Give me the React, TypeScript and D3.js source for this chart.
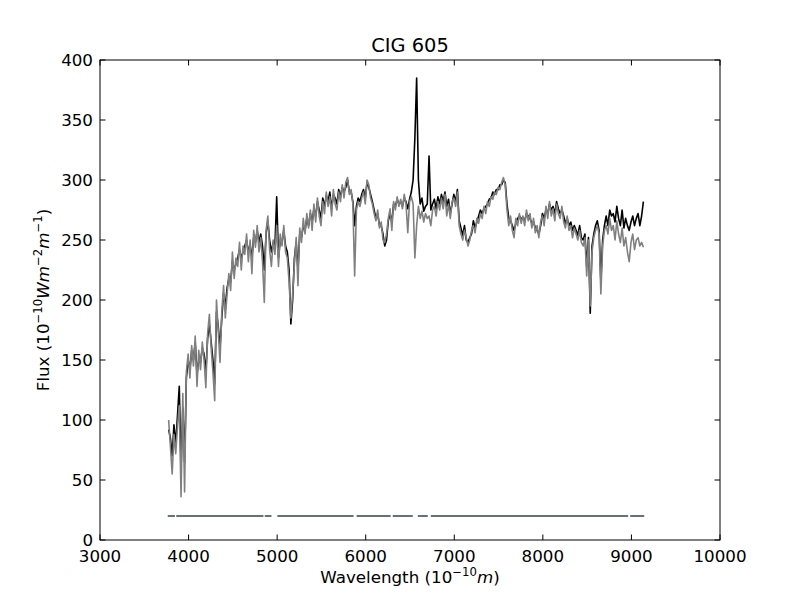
import { useEffect, useRef } from 'react';
import * as d3 from 'd3';

// sampling of the spectrum (Angstrom)
const wavelengths = d3.range(3775, 9140, 20);

// observed flux (black)
const observed = [
  92, 85, 70, 96, 80, 104, 128, 60, 110, 65,
  135, 150, 142, 158, 150, 165, 138, 150, 148, 160,
  155, 140, 168, 180, 165, 150, 130, 190, 178, 160,
  185, 205, 195, 210, 218, 215, 232, 225, 230, 235,
  242, 235, 240, 245, 250, 240, 246, 235, 252, 248,
  258, 248, 255, 245, 225, 255, 266, 250, 240, 248,
  245, 286, 235, 250, 248, 258, 245, 240, 225, 180,
  200, 235, 248, 225, 255, 252, 262, 258, 268, 262,
  272, 265, 276, 270, 282, 275, 268, 285, 278, 287,
  282, 290, 276, 288, 285, 280, 292, 286, 294, 290,
  294, 300, 290, 290, 282, 262, 278, 285, 282, 288,
  292, 285, 298, 294, 288, 282, 275, 268, 272, 262,
  262, 255, 245, 250, 266, 272, 265, 280, 278, 284,
  280, 282, 278, 285, 282, 276, 284, 290, 300, 335,
  385, 300, 280, 285, 274, 278, 280, 320, 275, 280,
  284, 276, 286, 280, 288, 282, 290, 278, 284, 272,
  280, 288, 282, 292, 266, 260, 254, 262, 250, 248,
  252, 255, 266, 260, 265, 270, 275, 272, 276, 278,
  280, 284, 285, 290, 288, 292, 292, 296, 296, 300,
  298, 280, 268, 266, 262, 258, 264, 268, 270, 268,
  268, 266, 272, 270, 268, 264, 265, 260, 258, 255,
  262, 272, 268, 275, 272, 280, 275, 278, 272, 282,
  276, 272, 275, 270, 264, 268, 262, 265, 258, 262,
  258, 254, 262, 252, 250, 255, 228, 252, 189, 245,
  255, 262, 266, 258, 215, 250, 262, 270, 262, 275,
  270, 272, 265, 278, 268, 262, 275, 260, 268, 262,
  258, 265, 270, 262, 268, 272, 262, 270, 282,
];

// synthetic fit (grey)
const model = [
  100, 78, 55, 88, 72, 95, 112, 36, 122, 40,
  140, 155, 135, 162, 145, 170, 128, 158, 142, 165,
  150, 127, 172, 188, 160, 140, 116, 200, 175, 148,
  190, 212, 185, 205, 222, 208, 240, 218, 235, 228,
  248, 225, 245, 238, 255, 232, 250, 222, 258, 244,
  262, 240, 252, 232, 198, 258, 270, 242, 228, 250,
  238, 262, 228, 255, 245, 262, 240, 235, 215, 185,
  205, 230, 252, 212, 260, 248, 268, 255, 272, 260,
  275, 258, 280, 265, 285, 270, 262, 282, 272, 290,
  278, 286, 270, 292, 280, 275, 290, 282, 296, 285,
  298, 302, 288, 292, 280, 220, 275, 282, 278, 285,
  290, 280, 300, 296, 285, 280, 272, 266, 275, 260,
  265, 250, 248, 255, 268, 276, 258, 282, 275, 286,
  278, 284, 276, 288, 280, 256, 282, 286, 280, 235,
  262, 278, 268, 274, 265, 272, 268, 270, 262, 275,
  278, 270, 282, 275, 285, 276, 288, 270, 280, 268,
  282, 285, 278, 290, 262, 255, 250, 258, 252, 245,
  250, 258, 262, 256, 268, 264, 272, 268, 278, 272,
  282, 278, 286, 284, 290, 288, 294, 292, 298, 302,
  296, 275, 262, 270, 258, 252, 268, 262, 272, 264,
  270, 262, 275, 266, 272, 260, 268, 256, 262, 252,
  265, 270, 262, 278, 268, 282, 270, 276, 266, 280,
  272, 268, 278, 265, 260, 270, 258, 262, 252, 260,
  255, 250, 258, 248, 245, 252, 220, 250, 195, 240,
  252, 258, 262, 255, 205, 245, 258, 262, 255, 268,
  258, 262, 250, 266, 255, 248, 260, 245, 252, 240,
  232, 248, 255, 242, 250, 252, 245, 248, 244,
];

// fitted wavelength windows, drawn as a flat line at this level
const maskLevel = 20;
const maskRanges: [number, number][] = [
  [3765, 3846], [3861, 4845], [4860, 4936], [5003, 5863], [5897, 6282],
  [6305, 6531], [6588, 6701], [6735, 8963], [8986, 9145],
];

const xTicks = [3000, 4000, 5000, 6000, 7000, 8000, 9000, 10000];
const yTicks = [0, 50, 100, 150, 200, 250, 300, 350, 400];

const font = 'DejaVu Sans';

export default function App() {
  const svgRef = useRef<SVGSVGElement>(null);

  useEffect(() => {
    if (!svgRef.current) return;
    const width = 800;
    const height = 600;
    const margin = { top: 60, right: 80, bottom: 60, left: 100 };

    const svg = d3.select(svgRef.current);
    svg.selectAll('*').remove();
    svg.attr('width', width).attr('height', height);

    svg.append('rect').attr('width', width).attr('height', height).attr('fill', 'white');

    const x = d3.scaleLinear().domain([3000, 10000]).range([margin.left, width - margin.right]);
    const y = d3.scaleLinear().domain([0, 400]).range([height - margin.bottom, margin.top]);

    const line = d3
      .line<number>()
      .x((_, i) => x(wavelengths[i]))
      .y((d) => y(d));

    const plot = svg.append('g');

    plot
      .append('path')
      .datum(observed)
      .attr('d', line)
      .attr('fill', 'none')
      .attr('stroke', 'black')
      .attr('stroke-width', 1.6)
      .attr('stroke-linejoin', 'round');

    plot
      .append('path')
      .datum(model)
      .attr('d', line)
      .attr('fill', 'none')
      .attr('stroke', '#808080')
      .attr('stroke-width', 1.6)
      .attr('stroke-linejoin', 'round');

    plot
      .selectAll('.mask')
      .data(maskRanges)
      .enter()
      .append('line')
      .attr('x1', (d) => x(d[0]))
      .attr('x2', (d) => x(d[1]))
      .attr('y1', y(maskLevel))
      .attr('y2', y(maskLevel))
      .attr('stroke', '#647474')
      .attr('stroke-width', 2);

    // frame
    svg
      .append('rect')
      .attr('x', x(3000))
      .attr('y', y(400))
      .attr('width', x(10000) - x(3000))
      .attr('height', y(0) - y(400))
      .attr('fill', 'none')
      .attr('stroke', 'black')
      .attr('stroke-width', 1);

    const tickLen = 5.5;
    const ticks = svg.append('g').attr('stroke', 'black').attr('stroke-width', 1);
    xTicks.forEach((t) => {
      ticks.append('line').attr('x1', x(t)).attr('x2', x(t)).attr('y1', y(0)).attr('y2', y(0) - tickLen);
      ticks.append('line').attr('x1', x(t)).attr('x2', x(t)).attr('y1', y(400)).attr('y2', y(400) + tickLen);
    });
    yTicks.forEach((t) => {
      ticks.append('line').attr('x1', x(3000)).attr('x2', x(3000) + tickLen).attr('y1', y(t)).attr('y2', y(t));
      ticks.append('line').attr('x1', x(10000)).attr('x2', x(10000) - tickLen).attr('y1', y(t)).attr('y2', y(t));
    });

    svg
      .append('g')
      .selectAll('text')
      .data(xTicks)
      .enter()
      .append('text')
      .attr('x', (d) => x(d))
      .attr('y', y(0) + 22)
      .attr('text-anchor', 'middle')
      .attr('font-family', font)
      .attr('font-size', 16.7)
      .text((d) => d);

    svg
      .append('g')
      .selectAll('text')
      .data(yTicks)
      .enter()
      .append('text')
      .attr('x', x(3000) - 7)
      .attr('y', (d) => y(d) + 6)
      .attr('text-anchor', 'end')
      .attr('font-family', font)
      .attr('font-size', 16.7)
      .text((d) => d);

    svg
      .append('text')
      .attr('x', (x(3000) + x(10000)) / 2)
      .attr('y', 52)
      .attr('text-anchor', 'middle')
      .attr('font-family', font)
      .attr('font-size', 19.4)
      .text('CIG 605');

    // x label: Wavelength (10^-10 m)
    const xl = svg
      .append('text')
      .attr('x', (x(3000) + x(10000)) / 2)
      .attr('y', 583)
      .attr('text-anchor', 'middle')
      .attr('font-family', font)
      .attr('font-size', 16.7);
    xl.append('tspan').text('Wavelength (10');
    xl.append('tspan').attr('dy', -7).attr('font-size', 11.7).text('\u221210');
    xl.append('tspan').attr('dy', 7).attr('font-style', 'italic').text('m');
    xl.append('tspan').text(')');

    // y label: Flux (10^-10 W m^-2 m^-1)
    const yl = svg
      .append('text')
      .attr('transform', `translate(49,${(y(0) + y(400)) / 2}) rotate(-90)`)
      .attr('text-anchor', 'middle')
      .attr('font-family', font)
      .attr('font-size', 16.7);
    yl.append('tspan').text('Flux (10');
    yl.append('tspan').attr('dy', -7).attr('font-size', 11.7).text('\u221210');
    yl.append('tspan').attr('dy', 7).attr('font-style', 'italic').text('Wm');
    yl.append('tspan').attr('dy', -7).attr('font-size', 11.7).text('\u22122');
    yl.append('tspan').attr('dy', 7).attr('font-style', 'italic').text('m');
    yl.append('tspan').attr('dy', -7).attr('font-size', 11.7).text('\u22121');
    yl.append('tspan').attr('dy', 7).text(')');
  }, []);

  return <svg ref={svgRef} style={{ position: 'absolute', left: 0, top: 0 }} />;
}
